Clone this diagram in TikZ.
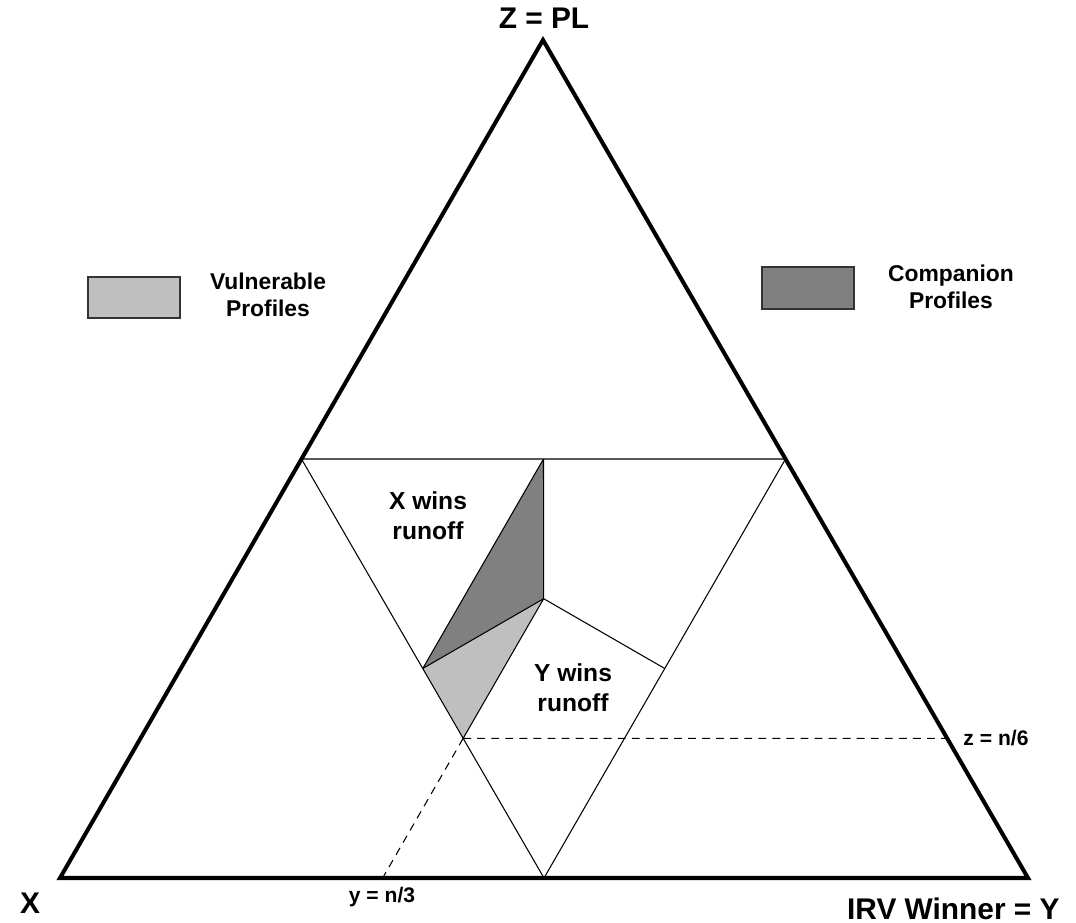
\documentclass[tikz,border=0pt]{standalone}
\usepackage{fontspec}
\setmainfont{Liberation Sans}
\usetikzlibrary{calc}
\tikzset{
  outerline/.style={line width=2.3pt,line join=miter},
  medline/.style={line width=0.6pt},
  cutline/.style={line width=0.6pt,dash pattern=on 4.5pt off 3.5pt},
  keybox/.style={draw=black!80,line width=1.1pt},
  lbl/.style={font=\bfseries\fontsize{13}{15.5}\selectfont,align=center,inner sep=0pt},
  bigl/.style={font=\bfseries\fontsize{17}{20}\selectfont,inner sep=0pt},
}
\begin{document}
\begin{tikzpicture}[x=0.02cm,y=-0.02cm]
    \useasboundingbox (0,0) rectangle (1076,923);
    % corners of the simplex
    \coordinate (X) at (60,878);\coordinate (Y) at (1028,878);\coordinate (Z) at (543,40);
    \coordinate (A) at ($(X)!0.5!(Z)$);\coordinate (B) at ($(Z)!0.5!(Y)$);\coordinate (C) at ($(X)!0.5!(Y)$);
    \coordinate (G) at ({(60+1028+543)/3},{(878+878+40)/3});
    \coordinate (M1) at ($(A)!0.5!(B)$);\coordinate (M2) at ($(B)!0.5!(C)$);\coordinate (M3) at ($(A)!0.5!(C)$);
    \coordinate (P) at ($(A)!2/3!(C)$);
    \coordinate (Pz) at ($(Y)!1/6!(Z)$);\coordinate (Py) at ($(X)!1/3!(Y)$);
    % shaded regions
    \fill[black!50] (M3)--(M1)--(G)--cycle;
    \fill[black!25] (M3)--(G)--(P)--cycle;
    \draw[medline] (A)--(B)--(C)--cycle;
    \draw[medline] (M1)--(G)--(M2) (G)--(M3) (M3)--(M1) (G)--(P);
    \draw[cutline] (P)--(Pz) (P)--(Py);
    \draw[outerline] (X)--(Y)--(Z)--cycle;
    % labels
    \node[bigl] (zl) at (544,18) {Z = PL};
    \node[bigl] (xl) at (30,903) {X};
    \node[bigl,anchor=base east] (yl) at (1060,919) {IRV Winner = Y};
    \node[lbl,font=\bfseries\fontsize{12}{14}\selectfont] (yn) at (382,897) {y = n/3};
    \node[lbl,font=\bfseries\fontsize{12}{14}\selectfont] (zn) at (996,738) {z = n/6};
    \node[lbl,font=\bfseries\fontsize{14}{17}\selectfont] (xw) at (428,516) {X wins\\runoff};
    \node[lbl,font=\bfseries\fontsize{14}{17}\selectfont] (yw) at (573,688) {Y wins\\runoff};
    % legend
    \draw[keybox,fill=black!25] (88,277) rectangle (180,318);
    \node[lbl] (vp) at (268,295) {Vulnerable\\Profiles};
    \draw[keybox,fill=black!50] (762,267) rectangle (854,309);
    \node[lbl] (cp) at (951,287) {Companion\\Profiles};
\end{tikzpicture}
\end{document}
